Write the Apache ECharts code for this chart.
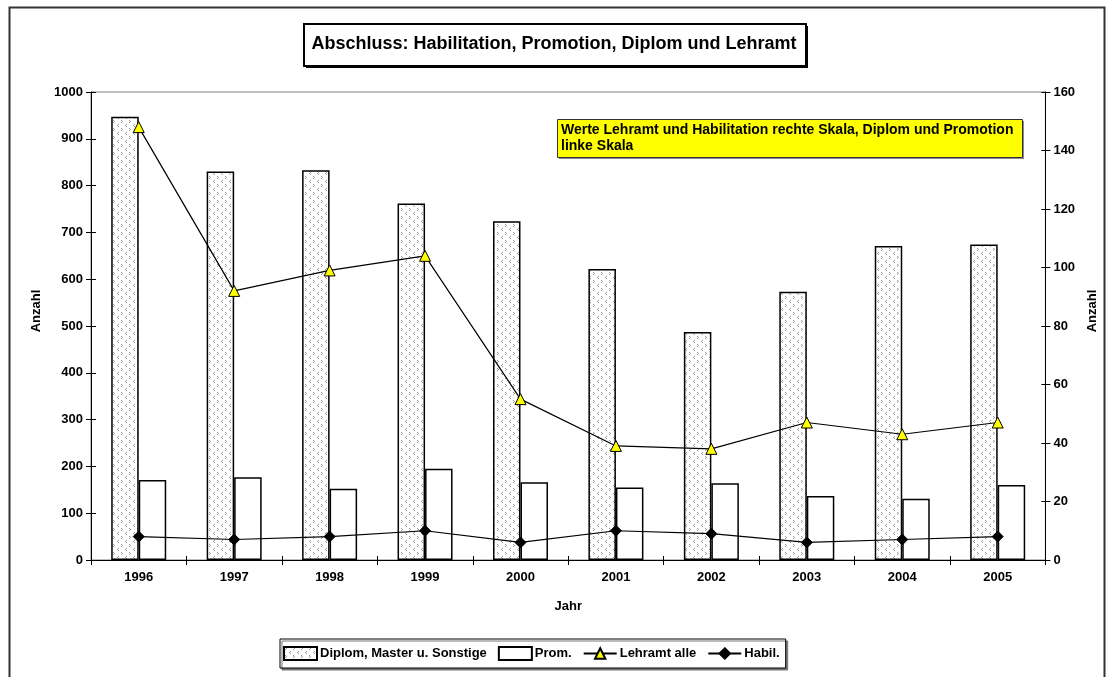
<!DOCTYPE html>
<html>
<head>
<meta charset="utf-8">
<script src="https://cdn.jsdelivr.net/npm/echarts@6/dist/echarts.min.js"></script>
<style>
  html, body { margin: 0; padding: 0; background: #fff; }
  #chart { width: 1107px; height: 677px; }
</style>
</head>
<body>
<div id="chart"></div>
<script>
// Graduation counts per year
const years = ['1996', '1997', '1998', '1999', '2000', '2001', '2002', '2003', '2004', '2005'];
const diplom = [947, 830, 833, 762, 724, 622, 487, 573, 671, 674];
const prom = [171, 177, 152, 195, 166, 155, 164, 137, 131, 160];
const lehramt = [148, 92, 99, 104, 55, 39, 38, 47, 43, 47];
const habil = [8, 7, 8, 10, 6, 10, 9, 6, 7, 8];

const FONT = '"Liberation Sans", Arial, sans-serif';

// Small chevron tile used as the fill of the Diplom bars
function makePattern() {
  const c = document.createElement('canvas');
  c.width = 8; c.height = 8;
  const g = c.getContext('2d');
  g.fillStyle = '#ffffff';
  g.fillRect(0, 0, 8, 8);
  g.fillStyle = '#9a9a9a';
  // ">" mark
  g.fillRect(1, 0, 1, 1); g.fillRect(2, 1, 1, 1); g.fillRect(1, 2, 1, 1);
  // "<" mark
  g.fillRect(6, 4, 1, 1); g.fillRect(5, 5, 1, 1); g.fillRect(6, 6, 1, 1);
  return c;
}
const pattern = { image: makePattern(), repeat: 'repeat' };

const chart = echarts.init(document.getElementById('chart'), null, { renderer: 'canvas' });

const labelStyle = { color: '#000', fontFamily: FONT, fontWeight: 'bold', fontSize: 13 };
const plainNumber = function (v) { return String(v); };

function yAxisBase(min, max, interval, position) {
  return {
    type: 'value', min: min, max: max, interval: interval, position: position,
    axisLine: { show: true, lineStyle: { color: '#000', width: 1 } },
    axisTick: { show: true, length: 5, lineStyle: { color: '#000' } },
    splitLine: { show: false },
    axisLabel: Object.assign({ margin: 8, formatter: plainNumber }, labelStyle)
  };
}

const option = {
  backgroundColor: '#ffffff',
  animation: false,
  grid: {
    left: 91, right: 57, top: 92, bottom: 117,
    show: true, borderColor: '#808080', borderWidth: 1, backgroundColor: 'transparent'
  },
  legend: {
    left: 280, top: 639,
    padding: [7, 6, 7, 3],
    itemGap: 11,
    itemWidth: 33, itemHeight: 13,
    backgroundColor: '#ffffff',
    borderColor: '#000', borderWidth: 1,
    shadowColor: '#777', shadowOffsetX: 2, shadowOffsetY: 2, shadowBlur: 0,
    textStyle: { color: '#000', fontFamily: FONT, fontWeight: 'bold', fontSize: 13, padding: [0, 0, 0, -2] },
    data: [
      { name: 'Diplom, Master u. Sonstige', icon: 'rect' },
      { name: 'Prom.', icon: 'rect' },
      'Lehramt alle',
      'Habil.'
    ]
  },
  xAxis: [{
    type: 'category', data: years, boundaryGap: true,
    name: 'Jahr', nameLocation: 'middle', nameGap: 40,
    nameTextStyle: { color: '#000', fontFamily: FONT, fontWeight: 'bold', fontSize: 13 },
    axisLine: { show: true, lineStyle: { color: '#000', width: 1 } },
    axisTick: { show: true, length: 5, alignWithLabel: false, lineStyle: { color: '#000' } },
    axisLabel: Object.assign({ margin: 11 }, labelStyle),
    splitLine: { show: false }
  }, {
    // inner half of the crossing ticks on the category axis
    type: 'category', data: years, position: 'bottom', boundaryGap: true,
    axisLine: { show: false },
    axisTick: { show: true, inside: true, length: 4, lineStyle: { color: '#000' } },
    axisLabel: { show: false }
  }],
  yAxis: [
    Object.assign(yAxisBase(0, 1000, 100, 'left'), {
      name: 'Anzahl', nameLocation: 'middle', nameRotate: 90, nameGap: 40,
      nameTextStyle: { color: '#000', fontFamily: FONT, fontWeight: 'bold', fontSize: 13, padding: [0, 0, 0, 30] }
    }),
    Object.assign(yAxisBase(0, 160, 20, 'right'), {
      name: 'Anzahl', nameLocation: 'middle', nameRotate: 90, nameGap: 34,
      nameTextStyle: { color: '#000', fontFamily: FONT, fontWeight: 'bold', fontSize: 13, padding: [0, 0, 0, 30] }
    }),
    // inner halves of the crossing ticks on both value axes
    {
      type: 'value', min: 0, max: 1000, interval: 100, position: 'left',
      axisLine: { show: false }, splitLine: { show: false }, axisLabel: { show: false },
      axisTick: { show: true, inside: true, length: 5, lineStyle: { color: '#000' } }
    },
    {
      type: 'value', min: 0, max: 160, interval: 20, position: 'right',
      axisLine: { show: false }, splitLine: { show: false }, axisLabel: { show: false },
      axisTick: { show: true, inside: true, length: 4, lineStyle: { color: '#000' } }
    }
  ],
  series: [
    {
      name: 'Diplom, Master u. Sonstige', type: 'bar', data: diplom,
      xAxisIndex: 0, yAxisIndex: 0,
      barWidth: 27.5, barGap: '0%',
      itemStyle: { color: pattern, borderColor: '#000', borderWidth: 1.5 },
      z: 2
    },
    {
      name: 'Prom.', type: 'bar', data: prom,
      xAxisIndex: 0, yAxisIndex: 0,
      barWidth: 27.5, barGap: '0%',
      itemStyle: { color: '#ffffff', borderColor: '#000', borderWidth: 1.5 },
      z: 2
    },
    {
      name: 'Lehramt alle', type: 'line', data: lehramt,
      xAxisIndex: 0, yAxisIndex: 1,
      symbol: 'triangle', symbolSize: 11,
      lineStyle: { color: '#000', width: 1.2 },
      itemStyle: { color: '#ffff00', borderColor: '#000', borderWidth: 1 },
      z: 5
    },
    {
      name: 'Habil.', type: 'line', data: habil,
      xAxisIndex: 0, yAxisIndex: 1,
      symbol: 'diamond', symbolSize: 11,
      lineStyle: { color: '#000', width: 1.2 },
      itemStyle: { color: '#000', borderColor: '#000', borderWidth: 1 },
      z: 5
    }
  ],
  graphic: [
    // frame around the whole chart
    {
      type: 'rect', left: 7, top: 5, z: 0,
      shape: { width: 1095, height: 700 },
      style: { fill: 'none', stroke: '#333', lineWidth: 2 }
    },
    // title box with drop shadow
    {
      type: 'rect', left: 306, top: 26, z: 10,
      shape: { width: 502, height: 42 },
      style: { fill: '#000' }
    },
    {
      type: 'rect', left: 303, top: 23, z: 11,
      shape: { width: 502, height: 42 },
      style: { fill: '#fff', stroke: '#000', lineWidth: 2 }
    },
    {
      type: 'text', x: 554, y: 44, z: 12,
      style: {
        text: 'Abschluss: Habilitation, Promotion, Diplom und Lehramt',
        fill: '#000', font: 'bold 18px ' + FONT,
        align: 'center', verticalAlign: 'middle'
      }
    },
    // note on which scale each series uses
    {
      type: 'rect', left: 559, top: 121, z: 10,
      shape: { width: 465, height: 38 },
      style: { fill: '#888' }
    },
    {
      type: 'rect', left: 557, top: 119, z: 11,
      shape: { width: 465, height: 38 },
      style: { fill: '#ffff00', stroke: '#333', lineWidth: 1 }
    },
    {
      type: 'text', x: 561, y: 122, z: 12,
      style: {
        text: 'Werte Lehramt und Habilitation rechte Skala, Diplom und Promotion\nlinke Skala',
        fill: '#000', font: 'bold 14px ' + FONT, lineHeight: 16,
        align: 'left', verticalAlign: 'top'
      }
    }
  ]
};

chart.setOption(option);
</script>
</body>
</html>
